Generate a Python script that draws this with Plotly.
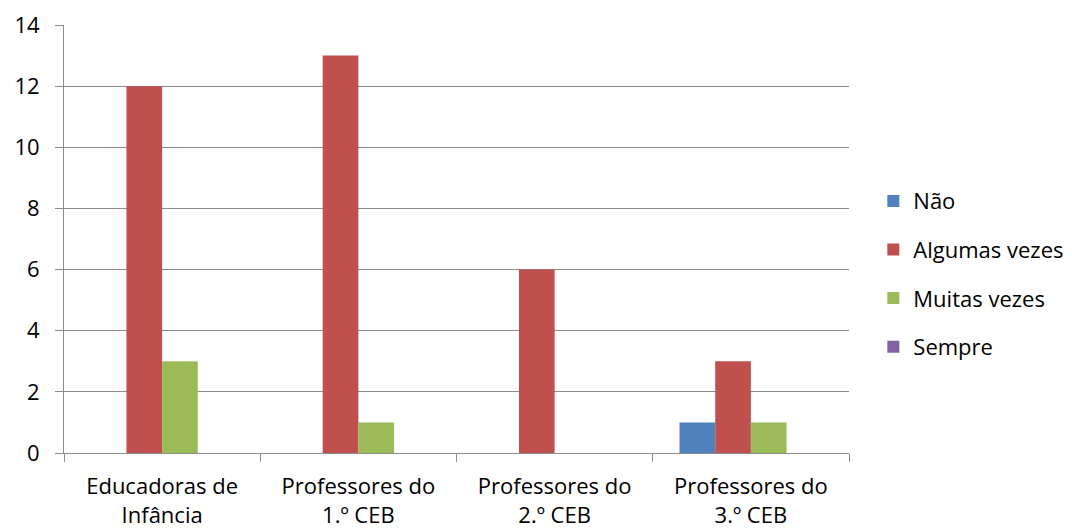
import plotly.graph_objects as go

categories = ["Educadoras de<br>Infância", "Professores do<br>1.º CEB",
              "Professores do<br>2.º CEB", "Professores do<br>3.º CEB"]
series_names = ["Não", "Algumas vezes", "Muitas vezes", "Sempre"]
nao = [0, 0, 0, 1]
algumas_vezes = [12, 13, 6, 3]
muitas_vezes = [3, 1, 0, 1]
sempre = [0, 0, 0, 0]
y_ticks = [0, 2, 4, 6, 8, 10, 12, 14]

colors = ["#4F81BD", "#C0504D", "#9BBB59", "#8064A2"]
values = [nao, algumas_vezes, muitas_vezes, sempre]

fig = go.Figure()
for i, (name, vals, col) in enumerate(zip(series_names, values, colors)):
    fig.add_trace(go.Bar(
        x=categories, y=vals, name=name, marker_color=col,
        marker_line_width=0, legendgroup=str(i),
    ))

grid = "#8C8C8C"
fig.update_layout(
    width=1072, height=529,
    margin=dict(l=64, r=223, t=25, b=76, autoexpand=False),
    paper_bgcolor="white", plot_bgcolor="white",
    barmode="group", bargap=0.2727, bargroupgap=0,
    font=dict(family="Open Sans, sans-serif", size=22, color="#000000"),
    legend=dict(
        x=1.031, y=0.418, xanchor="left", yanchor="middle",
        traceorder="grouped", tracegroupgap=17,
        font=dict(size=22), itemwidth=30,
    ),
    xaxis=dict(
        showline=True, linecolor=grid, linewidth=1, automargin=False,
        ticks="outside", tickson="boundaries", ticklen=8, tickcolor=grid,
        showgrid=False, tickfont=dict(size=22), ticklabelstandoff=14,
    ),
    yaxis=dict(
        range=[0, 14], tickvals=y_ticks, showline=True, linecolor=grid,
        linewidth=1, ticks="outside", ticklen=8, tickcolor=grid,
        automargin=False, ticklabelstandoff=11,
        showgrid=True, gridcolor=grid, gridwidth=1, zeroline=False,
        tickfont=dict(size=22),
    ),
)

fig.write_html("out.html")
